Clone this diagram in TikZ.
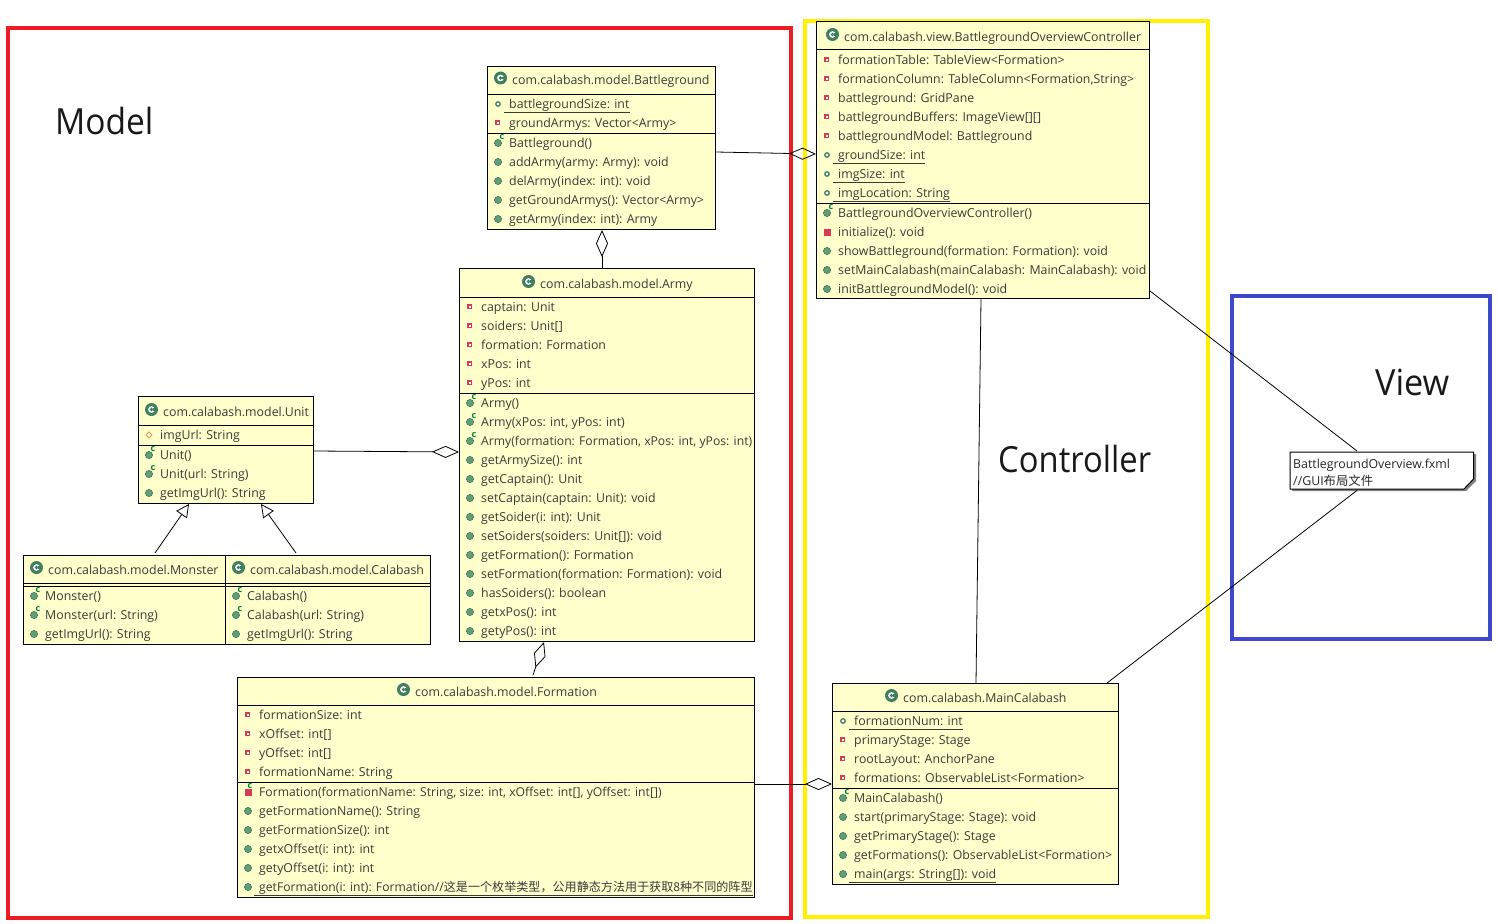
\documentclass[tikz,border=0pt]{standalone}
\usepackage{fontspec}
\setmainfont{Open Sans}
\newfontfamily\cjk{Noto Sans CJK SC}
\usetikzlibrary{arrows.meta,calc}
\definecolor{boxfill}{HTML}{FFFFCC}
\definecolor{txt}{HTML}{3A3A3A}
\definecolor{pubgreen}{HTML}{5E9E78}
\definecolor{darkgreen}{HTML}{3F7F5F}
\definecolor{privred}{HTML}{D83A58}
\definecolor{protor}{HTML}{D9A441}
\definecolor{ctorgreen}{HTML}{00803C}
\definecolor{framered}{HTML}{ED1C24}
\definecolor{frameyellow}{HTML}{FFF200}
\definecolor{frameblue}{HTML}{3F48CC}
\newcounter{rowc}
\newcommand{\Tight}{\fontsize{12.18}{14}\selectfont}
\tikzset{
  x=1pt,y=-1pt,
  classbox/.style={draw=black,fill=boxfill,line width=1pt,rectangle,inner sep=0pt,anchor=north west},
  divider/.style={draw=black,line width=1pt},
  rowtext/.style={anchor=base west,inner sep=0pt,text=txt,font=\fontsize{12.35}{14}\selectfont},
  notetext/.style={anchor=base west,inner sep=0pt,text=black!85,font=\fontsize{12.35}{14}\selectfont},
  biglabel/.style={anchor=base west,inner sep=0pt,text=black!90,font=\fontsize{36}{40}\selectfont},
  frame/.style={line width=4pt},
  conn/.style={draw=black,line width=.8pt},
  aggr/.style={conn,{Diamond[open,length=27pt,width=12pt,line width=.8pt]}-},
  inherit/.style={conn,-{Triangle[open,length=13pt,width=13pt,line width=.8pt]}},
  pubicon/.style={fill=pubgreen,draw=pubgreen!70!black,line width=.5pt},
  ctormark/.style={anchor=center,inner sep=0pt,text=ctorgreen,font=\bfseries\fontsize{9}{9}\selectfont},
}
% box: name, x1, y1, x2, y2
\newcommand{\Cls}[5]{\node[classbox,minimum width=#4-#2,minimum height=#5-#3] (#1) at (#2-1,#3-1) {};}
\newcommand{\Dv}[2]{\draw[divider] (#1.west |- 0,#2) -- (#1.east |- 0,#2);}
\newcommand{\Tx}[3]{\stepcounter{rowc}\node[rowtext] (t\arabic{rowc}) at (#1,#2+4.5) {#3};}
\newcommand{\Title}[3]{\fill[darkgreen] (#1-11.5,#2-2.5) circle (6.5);
  \fill[white] (#1-11.5,#2-2.5) circle (3.4);\fill[darkgreen] (#1-11.5,#2-2.5) circle (1.8);\fill[darkgreen] (#1-11.5+1,#2-3.6) rectangle (#1-11.5+4,#2-1.4);
  \Tx{#1}{#2}{#3}}
\newcommand{\PM}[3]{\fill[pubicon] (#1-11,#2) circle (3.6);\Tx{#1}{#2}{#3}}
\newcommand{\CM}[3]{\fill[pubicon] (#1-11,#2) circle (3.6);\stepcounter{rowc}\node[ctormark] (t\arabic{rowc}) at (#1-7,#2-5.5) {c};\Tx{#1}{#2}{#3}}
\newcommand{\PA}[3]{\draw[privred,line width=1.2pt,fill=white] (#1-13,#2-2) rectangle (#1-9.5,#2+1.5);\Tx{#1}{#2}{#3}}
\newcommand{\SA}[3]{\draw[darkgreen,line width=1.3pt,fill=white] (#1-11,#2) circle (2.2);\SU{#1}{#2}{#3}}
\newcommand{\SU}[3]{\Tx{#1}{#2}{#3}\coordinate (u) at (#1-5,#2+8);\draw[txt,line width=.9pt] (u) -- (u -| t\arabic{rowc}.east);}
\newcommand{\SM}[3]{\fill[pubicon] (#1-11,#2) circle (3.6);\SU{#1}{#2}{#3}}
\newcommand{\OA}[3]{\draw[protor,line width=.9pt,fill=white] (#1-14,#2)--(#1-11,#2-3)--(#1-8,#2)--(#1-11,#2+3)--cycle;\Tx{#1}{#2}{#3}}
\newcommand{\RM}[3]{\fill[privred] (#1-14.5,#2-3.5) rectangle (#1-7.5,#2+3.5);\Tx{#1}{#2}{#3}}
\newcommand{\RC}[3]{\RM{#1}{#2}{#3}\stepcounter{rowc}\node[ctormark] (t\arabic{rowc}) at (#1-9,#2-6) {c};}
\begin{document}
\begin{tikzpicture}
\useasboundingbox[fill=white] (0,0) rectangle (1498,923);
% frames
\draw[frame,framered] (8,28) rectangle (791,918);
\draw[frame,frameyellow] (805,21) rectangle (1208,917);
\draw[frame,frameblue] (1232,296) rectangle (1490,639);
\node[biglabel] (lmodel) at (55,135) {\scalebox{0.93}[1]{Model}};
\node[biglabel] (lctrl) at (998,472) {\scalebox{0.91}[1]{Controller}};
\node[biglabel] (lview) at (1375,395) {\scalebox{0.95}[1]{View}};

% Battleground
\Cls{bg}{488}{67}{716}{230}
\Dv{bg}{95}\Dv{bg}{133}
\Title{512}{80.5}{com.calabash.model.Battleground}
\SA{509}{104}{battlegroundSize: int}
\PA{509}{123}{groundArmys: Vector<Army>}
\CM{509}{143}{Battleground()}
\PM{509}{162}{addArmy(army: Army): void}
\PM{509}{181}{delArmy(index: int): void}
\PM{509}{200}{getGroundArmys(): Vector<Army>}
\PM{509}{219}{getArmy(index: int): Army}

% Army
\Cls{army}{460}{269}{755}{642}
\Dv{army}{297}\Dv{army}{393}
\Title{540}{284}{com.calabash.model.Army}
\PA{481}{307}{captain: Unit}
\PA{481}{326}{soiders: Unit[]}
\PA{481}{345}{formation: Formation}
\PA{481}{364}{xPos: int}
\PA{481}{383}{yPos: int}
\CM{481}{403}{Army()}
\CM{481}{422}{Army(xPos: int, yPos: int)}
\CM{481}{441}{\Tight Army(formation: Formation, xPos: int, yPos: int)}
\PM{481}{460}{getArmySize(): int}
\PM{481}{479}{getCaptain(): Unit}
\PM{481}{498}{setCaptain(captain: Unit): void}
\PM{481}{517}{getSoider(i: int): Unit}
\PM{481}{536}{setSoiders(soiders: Unit[]): void}
\PM{481}{555}{getFormation(): Formation}
\PM{481}{574}{setFormation(formation: Formation): void}
\PM{481}{593}{hasSoiders(): boolean}
\PM{481}{612}{getxPos(): int}
\PM{481}{631}{getyPos(): int}

% Unit
\Cls{unit}{139}{397}{314}{504}
\Dv{unit}{425}\Dv{unit}{445}
\Title{163}{412}{com.calabash.model.Unit}
\OA{160}{435}{imgUrl: String}
\CM{160}{455}{Unit()}
\CM{160}{474}{Unit(url: String)}
\PM{160}{493}{getImgUrl(): String}

% Monster
\Cls{monster}{24}{556}{226}{645}
\Dv{monster}{583}\Dv{monster}{586}
\Title{48}{570}{com.calabash.model.Monster}
\CM{45}{596}{Monster()}
\CM{45}{615}{Monster(url: String)}
\PM{45}{634}{getImgUrl(): String}

% Calabash
\Cls{calabash}{226}{556}{431}{645}
\Dv{calabash}{583}\Dv{calabash}{586}
\Title{250}{570}{com.calabash.model.Calabash}
\CM{247}{596}{Calabash()}
\CM{247}{615}{Calabash(url: String)}
\PM{247}{634}{getImgUrl(): String}

% Formation
\Cls{formation}{238}{678}{755}{898}
\Dv{formation}{705}\Dv{formation}{782}
\Title{415}{692}{com.calabash.model.Formation}
\PA{259}{715}{formationSize: int}
\PA{259}{734}{xOffset: int[]}
\PA{259}{753}{yOffset: int[]}
\PA{259}{772}{formationName: String}
\RC{259}{792}{\Tight Formation(formationName: String, size: int, xOffset: int[], yOffset: int[])}
\PM{259}{811}{getFormationName(): String}
\PM{259}{830}{getFormationSize(): int}
\PM{259}{849}{getxOffset(i: int): int}
\PM{259}{868}{getyOffset(i: int): int}
\SM{259}{887}{\Tight getFormation(i: int): Formation//{\cjk\fontsize{12.08}{14}\selectfont 这是一个枚举类型，公用静态方法用于获取8种不同的阵型}}

% Controller
\Cls{ctrl}{817}{22}{1150}{299}
\Dv{ctrl}{50}\Dv{ctrl}{203}
\Title{844}{37}{com.calabash.view.BattlegroundOverviewController}
\PA{838}{60}{formationTable: TableView<Formation>}
\PA{838}{79}{formationColumn: TableColumn<Formation,String>}
\PA{838}{98}{battleground: GridPane}
\PA{838}{117}{battlegroundBuffers: ImageView[][]}
\PA{838}{136}{battlegroundModel: Battleground}
\SA{838}{155}{groundSize: int}
\SA{838}{174}{imgSize: int}
\SA{838}{193}{imgLocation: String}
\CM{838}{213}{BattlegroundOverviewController()}
\RM{838}{232}{initialize(): void}
\PM{838}{251}{showBattleground(formation: Formation): void}
\PM{838}{270}{setMainCalabash(mainCalabash: MainCalabash): void}
\PM{838}{289}{initBattlegroundModel(): void}

% MainCalabash
\Cls{main}{833}{684}{1119}{885}
\Dv{main}{711}\Dv{main}{788}
\Title{903}{698}{com.calabash.MainCalabash}
\SA{854}{721}{formationNum: int}
\PA{854}{740}{primaryStage: Stage}
\PA{854}{759}{rootLayout: AnchorPane}
\PA{854}{778}{formations: ObservableList<Formation>}
\CM{854}{798}{MainCalabash()}
\PM{854}{817}{start(primaryStage: Stage): void}
\PM{854}{836}{getPrimaryStage(): Stage}
\PM{854}{855}{getFormations(): ObservableList<Formation>}
\SM{854}{874}{main(args: String[]): void}

% Note
\fill[gray] (1292,454) -- (1476,454) -- (1476,481) -- (1466,491) -- (1292,491) -- cycle;
\node[rectangle,inner sep=0pt,anchor=north west,minimum width=183,minimum height=37] (note) at (1290,452) {};
\draw[line width=1pt,fill=white] (1290,452) -- (1473.5,452) -- (1473.5,479) -- (1464,489) -- (1290,489) -- cycle;
\node[notetext] (n1) at (1293,468) {BattlegroundOverview.fxml};
\node[notetext] (n2) at (1293,485) {//GUI{\cjk 布局文件}};

% connectors
\draw[aggr] ($(ctrl.north west)+(0,133)$) -- ($(bg.north east)+(0,86)$);
\draw[aggr] ($(bg.south west)+(115,0)$) -- ($(army.north west)+(143,0)$);
\draw[aggr] ($(army.north west)+(0,184)$) -- ($(unit.north east)+(0,55)$);
\draw[aggr] ($(main.north west)+(0,101)$) -- ($(formation.north east)+(0,107)$);
\draw[aggr] ($(army.south west)+(85,0)$) -- ($(formation.north west)+(296,-2)$);
\draw[inherit] ($(monster.north west)+(132,-2)$) -- ($(unit.south west)+(51,0)$);
\draw[inherit] ($(calabash.north west)+(71,-2)$) -- ($(unit.south west)+(123,0)$);
\draw[conn] ($(ctrl.south west)+(165,0)$) -- ($(main.north west)+(144,0)$);
\draw[conn] ($(ctrl.north east)+(0,270)$) -- ($(note.north west)+(67,-1)$);
\draw[conn] ($(main.north east)+(-12,0)$) -- ($(note.south west)+(67,1)$);
\end{tikzpicture}
\end{document}
